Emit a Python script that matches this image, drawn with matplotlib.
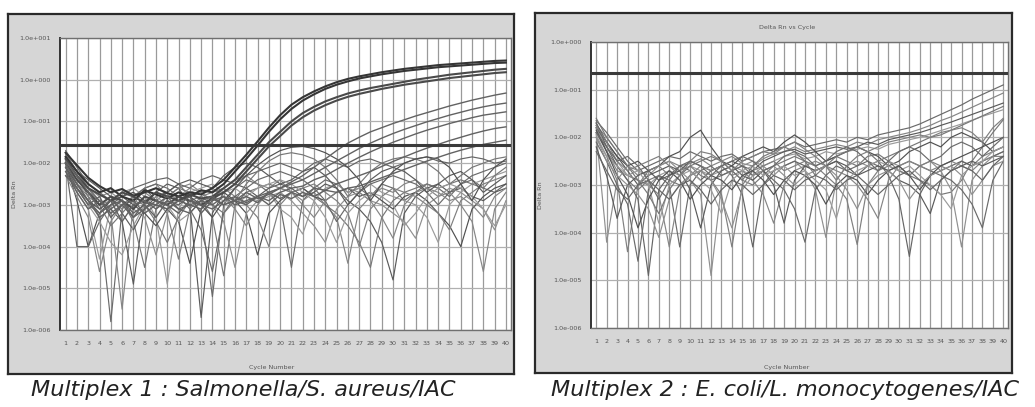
import numpy as np
import matplotlib
matplotlib.use('Agg')
import matplotlib.pyplot as plt

# ---------------- data (log10 of Delta Rn, cycles 1..40) ----------------
CYCLES = list(range(1, 41))

# Multiplex 1 : Salmonella / S. aureus / IAC
M1_THRESHOLD = 0.027
M1_A1 = [-1.75,-2.05,-2.35,-2.55,-2.7,-2.62,-2.78,-2.7,-2.6,-2.72,-2.8,-2.7,-2.75,-2.6,-2.4,-2.1,-1.8,-1.48,-1.15,-0.85,-0.6,-0.42,-0.28,-0.16,-0.06,0.02,0.08,0.13,0.18,0.22,0.26,0.29,0.32,0.35,0.37,0.39,0.41,0.43,0.45,0.46]
M1_A2 = [-1.85,-2.2,-2.5,-2.7,-2.6,-2.8,-2.9,-2.65,-2.75,-2.85,-2.7,-2.8,-2.65,-2.7,-2.5,-2.2,-1.9,-1.58,-1.25,-0.95,-0.7,-0.5,-0.35,-0.22,-0.12,-0.04,0.03,0.08,0.13,0.17,0.21,0.24,0.27,0.3,0.32,0.34,0.36,0.38,0.4,0.41]
M1_B1 = [-1.9,-2.3,-2.6,-2.75,-2.9,-2.7,-2.8,-2.95,-2.7,-2.8,-2.9,-2.75,-2.85,-2.8,-2.6,-2.4,-2.1,-1.8,-1.5,-1.25,-1.0,-0.8,-0.65,-0.52,-0.42,-0.33,-0.26,-0.2,-0.15,-0.1,-0.05,0.0,0.04,0.08,0.12,0.15,0.18,0.21,0.24,0.26]
M1_B2 = [-2.0,-2.4,-2.7,-3.0,-2.8,-2.9,-3.1,-2.8,-2.9,-3.0,-2.8,-2.9,-3.0,-2.85,-2.7,-2.5,-2.2,-1.9,-1.6,-1.35,-1.1,-0.9,-0.74,-0.61,-0.5,-0.41,-0.34,-0.28,-0.22,-0.17,-0.12,-0.08,-0.04,0.0,0.04,0.07,0.1,0.13,0.16,0.18]
M1_C1 = [-2.0,-2.5,-2.9,-3.2,-3.0,-2.9,-3.3,-3.1,-2.9,-3.0,-3.2,-2.9,-3.0,-3.1,-2.9,-2.8,-2.95,-2.8,-2.7,-2.6,-2.45,-2.3,-2.1,-1.9,-1.7,-1.52,-1.38,-1.25,-1.15,-1.05,-0.96,-0.87,-0.79,-0.71,-0.63,-0.56,-0.49,-0.43,-0.37,-0.32]
M1_C2 = [-2.1,-2.6,-3.0,-2.8,-3.3,-3.0,-2.9,-3.2,-3.0,-2.8,-3.1,-3.0,-2.9,-2.8,-3.0,-2.9,-2.7,-2.85,-2.75,-2.6,-2.5,-2.4,-2.25,-2.1,-1.95,-1.8,-1.65,-1.52,-1.4,-1.29,-1.19,-1.1,-1.01,-0.93,-0.85,-0.78,-0.71,-0.65,-0.6,-0.56]
M1_C3 = [-1.95,-2.3,-2.7,-3.1,-2.9,-3.4,-3.0,-2.9,-3.1,-2.9,-3.0,-2.8,-3.2,-2.9,-2.8,-2.9,-3.0,-2.8,-2.9,-2.7,-2.6,-2.55,-2.4,-2.3,-2.15,-2.0,-1.86,-1.73,-1.61,-1.5,-1.4,-1.3,-1.21,-1.13,-1.05,-0.98,-0.91,-0.85,-0.81,-0.77]
M1_D1 = [-2.2,-2.7,-3.1,-2.9,-3.2,-3.0,-3.3,-2.95,-3.0,-3.1,-2.9,-3.0,-3.1,-2.85,-3.0,-2.9,-2.8,-2.95,-2.7,-2.85,-2.7,-2.8,-2.6,-2.65,-2.5,-2.4,-2.3,-2.2,-2.08,-1.96,-1.85,-1.74,-1.64,-1.55,-1.46,-1.38,-1.3,-1.23,-1.17,-1.13]
M1_D2 = [-2.3,-2.6,-2.9,-3.3,-3.1,-2.9,-3.2,-3.0,-3.3,-2.9,-3.1,-3.2,-2.9,-3.0,-2.8,-3.0,-2.9,-2.8,-3.0,-2.75,-2.85,-2.7,-2.8,-2.65,-2.7,-2.6,-2.55,-2.45,-2.35,-2.25,-2.15,-2.05,-1.95,-1.86,-1.77,-1.69,-1.62,-1.55,-1.5,-1.45]
M1_N1 = [-1.9,-2.3,-2.8,-3.3,-5.8,-3.1,-2.8,-2.6,-2.9,-2.7,-2.5,-2.8,-3.2,-5.2,-3.0,-2.6,-2.4,-2.5,-2.7,-3.0,-4.5,-2.9,-2.6,-2.4,-2.5,-2.7,-2.6,-2.8,-2.5,-2.6,-2.9,-2.7,-2.5,-2.6,-2.8,-2.5,-2.4,-2.6,-2.7,-2.5]
M1_N2 = [-2.0,-2.5,-2.7,-2.9,-3.2,-5.5,-3.0,-2.6,-2.5,-2.8,-2.6,-2.5,-2.7,-2.9,-2.6,-2.4,-2.3,-2.5,-2.6,-2.4,-2.7,-2.9,-2.7,-3.0,-3.3,-4.4,-3.1,-2.8,-2.6,-2.7,-2.5,-2.4,-2.6,-2.8,-2.7,-3.0,-3.4,-4.6,-3.1,-2.7]
M1_N3 = [-1.8,-2.2,-2.6,-2.9,-3.1,-3.4,-4.9,-3.0,-2.7,-2.5,-2.6,-3.0,-5.7,-3.2,-2.7,-2.5,-2.6,-2.8,-2.6,-2.5,-2.6,-2.8,-2.7,-2.5,-2.6,-2.9,-3.1,-3.4,-3.9,-4.8,-3.2,-2.8,-2.6,-2.5,-2.7,-2.6,-2.8,-2.9,-2.7,-2.6]
M1_N4 = [-2.1,-2.7,-3.1,-4.3,-3.0,-2.7,-2.6,-2.8,-3.3,-4.9,-3.1,-2.7,-2.6,-2.5,-2.7,-2.6,-2.8,-2.9,-2.7,-3.1,-3.3,-3.7,-2.9,-2.6,-2.5,-2.7,-2.6,-2.5,-2.7,-2.8,-2.9,-3.0,-3.3,-3.9,-3.0,-2.7,-2.5,-2.4,-2.3,-2.2]
M1_N5 = [-2.2,-2.6,-3.0,-3.2,-3.0,-2.9,-3.4,-4.5,-3.1,-2.8,-2.6,-2.7,-2.9,-3.3,-4.7,-3.0,-2.7,-2.6,-2.5,-2.6,-2.7,-2.6,-2.8,-3.0,-3.2,-3.5,-3.9,-4.5,-3.3,-2.9,-2.7,-2.6,-2.5,-2.6,-2.5,-2.4,-2.5,-2.6,-2.3,-2.1]
M1_N6 = [-2.0,-2.9,-4.0,-3.2,-2.9,-2.8,-2.7,-2.9,-3.0,-3.1,-3.4,-4.4,-3.1,-2.8,-2.7,-2.9,-3.2,-4.2,-3.2,-2.9,-2.7,-2.6,-2.8,-2.9,-2.7,-2.6,-2.8,-2.7,-2.9,-3.1,-2.8,-2.7,-2.9,-3.2,-3.5,-4.0,-3.1,-2.8,-2.6,-2.5]
M1_N7 = [-1.9,-2.4,-2.6,-2.8,-2.7,-2.9,-3.1,-3.3,-4.2,-3.2,-2.8,-2.6,-2.7,-3.0,-3.4,-4.5,-3.2,-2.9,-2.8,-2.7,-2.9,-3.2,-3.5,-3.9,-3.1,-2.8,-2.7,-2.9,-3.0,-3.2,-3.4,-3.8,-3.0,-2.8,-2.6,-2.7,-2.9,-3.1,-3.6,-2.9]
M1_N8 = [-2.1,-2.5,-2.8,-3.0,-2.9,-3.1,-2.8,-2.7,-2.9,-3.2,-4.3,-3.1,-2.8,-2.7,-2.6,-2.8,-3.0,-3.3,-4.0,-3.0,-2.7,-2.6,-2.5,-2.7,-2.9,-3.2,-4.0,-3.1,-2.8,-2.6,-2.7,-2.8,-3.0,-3.2,-3.6,-2.9,-2.7,-2.5,-2.4,-2.3]
M1_N9 = [-2.0,-4.0,-4.0,-3.4,-3.0,-2.8,-2.6,-2.5,-2.4,-2.35,-2.5,-2.6,-2.4,-2.3,-2.4,-2.5,-2.3,-2.2,-2.1,-2.0,-2.1,-2.2,-2.0,-1.9,-2.0,-2.1,-1.95,-1.9,-2.0,-2.1,-2.0,-1.9,-1.85,-1.95,-2.0,-1.9,-1.85,-1.9,-2.0,-1.95]
M1_N10 = [-1.7,-2.1,-2.5,-2.7,-2.9,-3.0,-2.8,-2.6,-2.5,-2.6,-2.8,-3.1,-3.6,-4.6,-3.2,-2.8,-2.6,-2.4,-2.3,-2.2,-2.3,-2.4,-2.6,-2.9,-3.4,-3.0,-2.7,-2.5,-2.4,-2.3,-2.4,-2.5,-2.7,-3.0,-2.7,-2.5,-2.3,-2.2,-2.1,-2.0]
M1_N11 = [-2.3,-2.8,-3.3,-4.6,-3.4,-3.0,-2.8,-2.7,-2.6,-2.7,-2.9,-2.8,-2.7,-2.6,-2.8,-3.1,-3.5,-3.0,-2.7,-2.6,-2.7,-3.0,-3.3,-2.9,-2.7,-2.6,-2.7,-2.9,-3.3,-3.8,-3.0,-2.7,-2.6,-2.7,-2.9,-2.8,-3.0,-3.3,-2.8,-2.6]
M1_N12 = [-1.85,-2.2,-2.4,-2.6,-2.8,-3.2,-3.6,-3.1,-2.8,-2.7,-2.5,-2.4,-2.5,-2.6,-2.3,-2.1,-2.0,-2.1,-2.3,-2.5,-2.4,-2.2,-2.1,-2.3,-2.6,-3.0,-2.7,-2.4,-2.2,-2.1,-2.2,-2.4,-2.7,-2.5,-2.3,-2.2,-2.4,-2.7,-2.5,-2.3]
M1_N13 = [-2.0,-2.6,-3.0,-3.4,-3.9,-4.2,-3.5,-3.0,-2.8,-3.0,-3.4,-3.2,-2.9,-2.8,-2.9,-3.0,-2.8,-2.6,-2.5,-2.4,-2.5,-2.7,-2.9,-3.3,-3.9,-3.2,-2.9,-2.7,-2.8,-3.0,-3.5,-3.2,-2.8,-2.6,-2.5,-2.6,-2.8,-3.1,-3.5,-3.0]
M1_N14 = [-1.75,-2.2,-2.6,-3.0,-3.5,-3.2,-2.9,-3.0,-3.4,-3.9,-3.3,-2.9,-2.8,-3.0,-3.2,-2.9,-2.5,-2.2,-1.95,-1.8,-1.75,-1.8,-1.9,-2.1,-2.4,-2.8,-2.5,-2.2,-2.0,-1.9,-1.85,-1.9,-2.0,-2.2,-2.5,-2.3,-2.1,-2.0,-1.9,-1.85]
M1_N15 = [-2.1,-2.5,-2.9,-3.1,-2.9,-2.8,-3.0,-3.2,-3.5,-3.1,-2.9,-2.8,-3.0,-3.3,-2.9,-2.6,-2.3,-2.05,-1.85,-1.7,-1.62,-1.6,-1.65,-1.75,-1.9,-2.1,-2.4,-2.9,-2.5,-2.2,-2.0,-1.9,-1.85,-1.9,-2.1,-2.5,-2.9,-2.4,-2.1,-1.9]

# Multiplex 2 : E. coli / L. monocytogenes / IAC
M2_THRESHOLD = 0.22
M2_R1 = [-1.65,-1.9,-2.2,-2.5,-2.7,-2.6,-2.5,-2.4,-2.45,-2.3,-2.4,-2.5,-2.4,-2.35,-2.5,-2.4,-2.3,-2.25,-2.2,-2.1,-2.2,-2.15,-2.1,-2.05,-2.1,-2.0,-2.05,-1.95,-1.9,-1.85,-1.8,-1.72,-1.62,-1.52,-1.42,-1.32,-1.2,-1.1,-1.0,-0.9]
M2_R2 = [-1.75,-2.0,-2.3,-2.6,-2.8,-2.7,-2.6,-2.5,-2.6,-2.55,-2.45,-2.6,-2.5,-2.4,-2.55,-2.6,-2.45,-2.35,-2.3,-2.2,-2.3,-2.25,-2.2,-2.15,-2.2,-2.1,-2.15,-2.05,-2.0,-1.95,-1.9,-1.83,-1.75,-1.65,-1.57,-1.47,-1.37,-1.27,-1.17,-1.07]
M2_R3 = [-1.7,-2.1,-2.4,-2.7,-3.0,-2.8,-2.7,-2.6,-2.7,-2.5,-2.6,-2.7,-2.6,-2.5,-2.6,-2.7,-2.5,-2.4,-2.3,-2.25,-2.35,-2.3,-2.25,-2.2,-2.25,-2.2,-2.1,-2.15,-2.05,-2.0,-1.95,-1.9,-1.83,-1.75,-1.68,-1.6,-1.52,-1.44,-1.36,-1.28]
M2_R4 = [-1.8,-2.2,-2.5,-2.8,-2.9,-3.0,-2.8,-2.7,-2.8,-2.6,-2.7,-2.8,-2.7,-2.6,-2.7,-2.8,-2.6,-2.5,-2.4,-2.35,-2.45,-2.4,-2.3,-2.35,-2.3,-2.25,-2.2,-2.25,-2.15,-2.1,-2.05,-2.0,-1.93,-1.86,-1.79,-1.72,-1.64,-1.56,-1.49,-1.42]
M2_R5 = [-1.9,-2.3,-2.6,-2.9,-3.1,-2.9,-2.8,-2.9,-3.0,-2.8,-2.7,-2.9,-2.8,-2.7,-2.9,-3.0,-2.8,-2.6,-2.5,-2.4,-2.5,-2.6,-2.5,-2.4,-2.5,-2.6,-2.4,-2.35,-2.5,-2.7,-2.8,-2.9,-3.0,-3.2,-3.15,-2.9,-2.5,-2.2,-1.9,-1.63]
M2_P1 = [-1.8,-2.1,-2.4,-2.6,-2.5,-2.7,-2.6,-2.4,-2.3,-2.0,-1.85,-2.2,-2.5,-2.6,-2.4,-2.3,-2.2,-2.3,-2.1,-1.95,-2.1,-2.3,-2.5,-2.4,-2.3,-2.2,-2.3,-2.4,-2.6,-2.5,-2.3,-2.2,-2.1,-2.2,-2.0,-1.9,-2.0,-2.1,-2.3,-2.2]
M2_Q1 = [-1.9,-4.2,-2.9,-2.6,-2.7,-2.8,-2.6,-2.5,-2.7,-2.9,-3.2,-4.9,-3.0,-2.7,-2.6,-2.5,-2.6,-2.8,-2.6,-2.5,-2.7,-3.1,-4.1,-2.9,-2.6,-2.5,-2.6,-2.7,-2.5,-2.6,-2.8,-2.6,-2.5,-2.7,-3.1,-4.3,-2.9,-2.6,-2.4,-2.3]
M2_Q2 = [-2.0,-2.4,-2.9,-4.4,-3.0,-2.7,-2.6,-2.8,-2.7,-2.6,-2.8,-2.9,-3.2,-4.3,-3.0,-2.7,-2.6,-2.5,-2.7,-2.6,-2.5,-2.6,-2.8,-3.0,-3.3,-4.25,-3.0,-2.7,-2.6,-2.7,-2.8,-2.6,-2.5,-2.6,-2.7,-2.5,-2.6,-2.4,-2.3,-2.2]
M2_Q3 = [-1.7,-2.2,-2.6,-2.9,-3.3,-4.9,-3.1,-2.8,-2.6,-2.7,-2.9,-2.7,-2.6,-2.8,-3.2,-4.3,-3.0,-2.7,-2.6,-2.5,-2.6,-2.7,-2.6,-2.5,-2.7,-2.8,-2.6,-2.5,-2.8,-3.3,-4.5,-3.2,-2.8,-2.7,-2.6,-2.5,-2.6,-2.5,-2.4,-2.3]
M2_Q4 = [-2.1,-2.5,-3.0,-3.4,-4.6,-3.1,-2.8,-3.0,-4.3,-3.0,-2.7,-2.6,-2.8,-2.7,-2.6,-2.8,-2.7,-2.9,-3.1,-3.5,-4.2,-3.1,-2.8,-2.6,-2.7,-2.6,-2.5,-2.6,-2.7,-2.6,-2.5,-2.6,-2.7,-2.8,-2.9,-3.1,-3.4,-3.9,-2.9,-2.5]
M2_Q5 = [-1.8,-2.3,-2.7,-2.8,-2.9,-3.0,-3.2,-4.3,-3.1,-2.8,-2.6,-2.7,-2.6,-2.8,-2.7,-2.9,-3.2,-3.8,-3.0,-2.7,-2.6,-2.5,-2.6,-2.7,-2.8,-3.0,-3.3,-3.7,-2.9,-2.6,-2.5,-2.6,-2.7,-2.6,-2.5,-2.6,-2.7,-2.5,-2.4,-2.4]
M2_Q6 = [-2.2,-2.8,-3.7,-3.0,-2.8,-2.7,-2.9,-2.8,-2.7,-3.1,-3.9,-3.0,-2.7,-2.6,-2.8,-2.9,-2.7,-3.0,-3.8,-2.9,-2.6,-2.7,-2.6,-2.5,-2.6,-2.8,-2.7,-2.6,-2.7,-2.9,-3.0,-3.2,-3.6,-2.9,-2.7,-2.6,-2.5,-2.6,-2.5,-2.4]
M2_Q7 = [-1.95,-2.4,-2.6,-2.8,-2.7,-3.0,-3.8,-3.0,-2.8,-2.7,-2.9,-3.1,-3.6,-2.9,-2.7,-2.6,-2.8,-2.7,-2.6,-2.8,-2.7,-2.9,-3.1,-3.7,-2.9,-2.7,-2.6,-2.5,-2.6,-2.7,-2.6,-2.8,-3.0,-3.2,-3.5,-2.8,-2.6,-2.5,-2.3,-2.2]
M2_Q8 = [-1.6,-2.0,-2.3,-2.6,-2.9,-3.2,-3.6,-3.1,-2.8,-2.6,-2.5,-2.4,-2.5,-2.7,-2.9,-2.6,-2.4,-2.3,-2.2,-2.3,-2.5,-2.8,-2.6,-2.4,-2.3,-2.2,-2.3,-2.5,-2.4,-2.3,-2.2,-2.1,-2.0,-1.95,-1.85,-1.75,-1.65,-1.55,-1.45,-1.35]
M2_Q9 = [-1.85,-2.3,-2.8,-3.2,-3.9,-3.3,-2.9,-2.7,-2.9,-3.3,-3.0,-2.8,-2.9,-3.1,-2.8,-2.7,-2.9,-3.2,-2.9,-2.7,-2.8,-3.0,-3.4,-3.0,-2.8,-2.9,-3.2,-2.9,-2.7,-2.6,-2.8,-3.1,-2.8,-2.6,-2.5,-2.4,-2.3,-2.2,-2.1,-2.0]
M2_Q10 = [-2.0,-2.5,-2.8,-3.0,-3.2,-3.5,-4.1,-3.3,-3.0,-2.8,-2.7,-2.9,-3.3,-3.9,-3.1,-2.8,-2.7,-2.6,-2.8,-3.0,-2.8,-2.7,-2.6,-2.8,-3.1,-3.5,-3.0,-2.8,-2.7,-2.9,-3.3,-3.0,-2.8,-2.7,-2.6,-2.8,-3.2,-2.9,-2.6,-2.5]
M2_Q11 = [-1.75,-2.1,-2.5,-2.7,-2.6,-2.5,-2.4,-2.6,-2.8,-2.5,-2.3,-2.35,-2.5,-2.7,-2.5,-2.4,-2.3,-2.35,-2.2,-2.1,-2.25,-2.4,-2.6,-2.9,-2.6,-2.4,-2.3,-2.2,-2.1,-2.05,-2.0,-1.95,-2.0,-1.9,-1.85,-1.8,-1.9,-2.1,-1.8,-1.6]
M2_Q12 = [-2.3,-2.7,-3.1,-3.3,-3.0,-2.9,-3.1,-3.3,-3.0,-2.9,-3.1,-3.4,-3.1,-2.9,-3.0,-3.2,-3.0,-2.8,-2.9,-3.1,-2.9,-2.8,-2.9,-3.1,-2.9,-2.8,-3.0,-3.2,-3.0,-2.8,-2.7,-2.9,-3.1,-2.9,-2.7,-2.6,-2.7,-2.9,-2.6,-2.4]
M2_Q13 = [-1.9,-2.2,-2.5,-2.4,-2.6,-2.9,-3.3,-2.9,-2.6,-2.5,-2.6,-2.8,-2.6,-2.5,-2.4,-2.5,-2.7,-2.6,-2.4,-2.3,-2.4,-2.6,-2.5,-2.3,-2.2,-2.3,-2.5,-2.7,-2.5,-2.3,-2.2,-2.3,-2.5,-2.4,-2.2,-2.1,-2.2,-2.4,-2.2,-2.0]

M1_YTICKS = [1e1, 1e0, 1e-1, 1e-2, 1e-3, 1e-4, 1e-5, 1e-6]
M2_YTICKS = [1e0, 1e-1, 1e-2, 1e-3, 1e-4, 1e-5, 1e-6]
M1_CAPTION = "Multiplex 1 : Salmonella/S. aureus/IAC"
M2_CAPTION = "Multiplex 2 : E. coli/L. monocytogenes/IAC"

# ---------------- drawing ----------------
W, H = 1035, 407
fig = plt.figure(figsize=(W / 100, H / 100), dpi=100)
fig.patch.set_facecolor('white')


def box(x0, y0, x1, y1):
    return [x0 / W, 1 - y1 / H, (x1 - x0) / W, (y1 - y0) / H]


def fmt(v):
    e = int(round(np.log10(v)))
    return "1.0e%s%03d" % ('+' if e >= 0 else '-', abs(e))


def panel(frame, area, strong, weak, thr, yticks, ylabel_x, xlabel_x, title=None):
    bg = fig.add_axes(box(*frame))
    bg.set_facecolor('#d6d6d6')
    bg.set_xticks([]); bg.set_yticks([])
    for s in bg.spines.values():
        s.set_color('#2a2a2a'); s.set_linewidth(1.6)
    ax = fig.add_axes(box(*area))
    ax.set_facecolor('white')
    ax.set_yscale('log')
    ax.set_xlim(0.5, 40.45)
    ax.set_ylim(min(yticks), max(yticks))
    for c in CYCLES:
        ax.axvline(c, color='#9a9a9a', lw=0.9, zorder=1)
    for t in yticks:
        ax.axhline(t, color='#b0b0b0', lw=0.9, zorder=1)
    greys = ['#6a6a6a', '#858585', '#5a5a5a', '#9a9a9a', '#777777', '#505050', '#8f8f8f', '#7f7f7f', '#656565']
    for i, s in enumerate(weak):
        ax.plot(CYCLES, np.power(10.0, s), color=greys[i % len(greys)], lw=0.85, zorder=2)
    for i, s in enumerate(strong):
        ax.plot(CYCLES, np.power(10.0, s), color=['#353535', '#4a4a4a', '#626262'][min(i // 2, 2)],
                lw=1.5 if i < 4 else 1.0, zorder=3)
    ax.axhline(thr, color='#3a3a3a', lw=2.2, zorder=4)
    ax.set_xticks(CYCLES)
    ax.set_xticklabels([str(c) for c in CYCLES], fontsize=4.6, color='#555555')
    ax.set_yticks(yticks)
    ax.set_yticklabels([fmt(v) for v in yticks], fontsize=4.6, color='#555555')
    ax.yaxis.set_minor_locator(matplotlib.ticker.NullLocator())
    ax.tick_params(length=0, pad=8)
    ax.tick_params(axis='y', pad=7)
    for s in ax.spines.values():
        s.set_color('#707070'); s.set_linewidth(1.0)
    ax.spines['left'].set_color('#333333'); ax.spines['left'].set_linewidth(1.4)
    yc = (area[1] + area[3]) / 2
    fig.text(ylabel_x / W, 1 - (yc + 10) / H, 'Delta Rn', rotation=90, fontsize=4.6,
             color='#555555', ha='center', va='center')
    fig.text(xlabel_x / W, 1 - 368 / H, 'Cycle Number', fontsize=4.6, color='#555555',
             ha='center', va='center')
    if title:
        fig.text((area[0] + area[2]) / 2 / W - 12 / W, 1 - 27 / H, title, fontsize=4.6, color='#555555',
                 ha='center', va='center')
    return ax


panel((8, 14, 514, 374), (60, 38, 511, 330),
      [M1_A1, M1_A2, M1_B1, M1_B2, M1_C1, M1_C2, M1_C3, M1_D1, M1_D2],
      [M1_N1, M1_N2, M1_N3, M1_N4, M1_N5, M1_N6, M1_N7, M1_N8, M1_N9,
       M1_N10, M1_N11, M1_N12, M1_N13, M1_N14, M1_N15],
      M1_THRESHOLD, M1_YTICKS, 14, 272)

panel((535, 13, 1012, 373), (591, 42, 1008, 328),
      [],
      [M2_R1, M2_R2, M2_R3, M2_R4, M2_R5, M2_P1, M2_Q1, M2_Q2, M2_Q3, M2_Q4, M2_Q5, M2_Q6, M2_Q7,
       M2_Q8, M2_Q9, M2_Q10, M2_Q11, M2_Q12, M2_Q13],
      M2_THRESHOLD, M2_YTICKS, 541, 787, title='Delta Rn vs Cycle')

fig.text(243 / W, 1 - 390 / H, M1_CAPTION, fontsize=16, style='italic', family='DejaVu Sans',
         color='#222222', ha='center', va='center')
fig.text(785 / W, 1 - 390 / H, M2_CAPTION, fontsize=16, style='italic', family='DejaVu Sans',
         color='#222222', ha='center', va='center')

fig.savefig('out.png', dpi=100, facecolor='white')
